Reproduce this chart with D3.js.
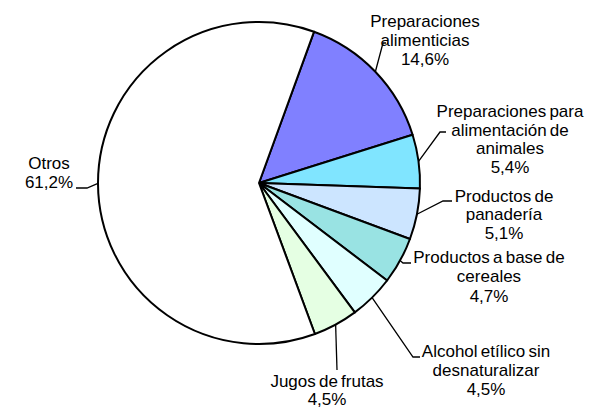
<!DOCTYPE html>
<html>
<head>
<meta charset="utf-8">
<script src="https://cdn.jsdelivr.net/npm/d3@7"></script>
<style>
  html, body { margin: 0; padding: 0; background: #fff; }
  svg { display: block; }
  text { font-family: "Liberation Sans", Arial, sans-serif; font-size: 17px; fill: #000; }
</style>
</head>
<body>
<svg id="chart" width="594" height="408"></svg>
<script>
// Product categories (label lines) and their shares, in percent
const categories = [
  ["Preparaciones", "alimenticias"],
  ["Preparaciones para", "alimentación de", "animales"],
  ["Productos de", "panadería"],
  ["Productos a base de", "cereales"],
  ["Alcohol etílico sin", "desnaturalizar"],
  ["Jugos de frutas"],
  ["Otros"]
];
const shares = [14.6, 5.4, 5.1, 4.7, 4.5, 4.5, 61.2];
const shareLabels = ["14,6%", "5,4%", "5,1%", "4,7%", "4,5%", "4,5%", "61,2%"];
const sliceColors = ["#8080FF", "#80E5FF", "#CCE5FF", "#99E3E3", "#E0FFFF", "#E5FFE3", "#FFFFFF"];

// Label placement: text centre x, first baseline y, and leader bend points
const labelLayout = [
  { x: 425, y: 27,  dy: 19,   bend: [[383, 43], [386, 43]] },
  { x: 510, y: 117, dy: 18.7, bend: [[440, 132], [446, 132]] },
  { x: 504, y: 202, dy: 18.3, bend: [[443, 201], [452, 201]] },
  { x: 489, y: 263, dy: 19.3, bend: [[403, 263], [411, 263]] },
  { x: 486, y: 357, dy: 19,   bend: [[413, 357], [420, 357]] },
  { x: 327, y: 387, dy: 18,   bend: [[337, 370]] },
  { x: 49,  y: 169, dy: 19,   bend: [[87, 188], [76, 188]] }
];

const cx = 259, cy = 183, r = 161;
const startDeg = 20;

const svg = d3.select("#chart");
const g = svg.append("g").attr("transform", `translate(${cx},${cy})`);

const pie = d3.pie()
  .value(d => d)
  .sort(null)
  .startAngle(startDeg * Math.PI / 180)
  .endAngle((startDeg + 360) * Math.PI / 180);

const arcs = pie(shares);
const arc = d3.arc().innerRadius(0).outerRadius(r);
const edgeArc = d3.arc().innerRadius(r).outerRadius(r);

g.selectAll("path.slice")
  .data(arcs)
  .join("path")
  .attr("class", "slice")
  .attr("d", arc)
  .attr("fill", (d, i) => sliceColors[i])
  .attr("stroke", "#000")
  .attr("stroke-width", 2)
  .attr("stroke-linejoin", "round");

// Leader lines from the slice edge to the labels
const line = d3.line();
svg.selectAll("path.leader")
  .data(arcs)
  .join("path")
  .attr("class", "leader")
  .attr("d", (d, i) => {
    const [ex, ey] = edgeArc.centroid(d);
    return line([[cx + ex, cy + ey], ...labelLayout[i].bend]);
  })
  .attr("fill", "none")
  .attr("stroke", "#000")
  .attr("stroke-width", 1.3);

// Labels: category lines followed by the share
const labels = svg.selectAll("text.label")
  .data(arcs)
  .join("text")
  .attr("class", "label")
  .attr("text-anchor", "middle")
  .attr("word-spacing", "-1.5px");

labels.each(function (d, i) {
  const lay = labelLayout[i];
  const lines = categories[i].concat([shareLabels[i]]);
  d3.select(this).selectAll("tspan")
    .data(lines)
    .join("tspan")
    .attr("x", lay.x)
    .attr("y", (t, j) => lay.y + j * lay.dy)
    .text(t => t);
});
</script>
</body>
</html>
